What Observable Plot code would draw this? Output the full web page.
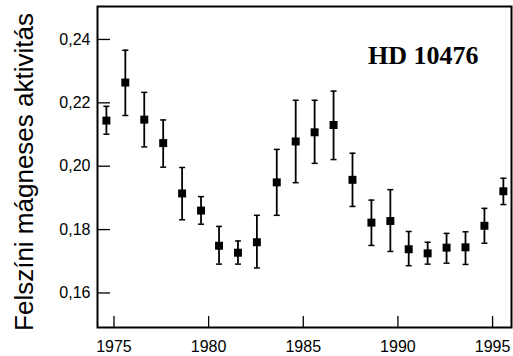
<!DOCTYPE html>
<html>
<head>
<meta charset="utf-8">
<script src="https://cdn.jsdelivr.net/npm/d3@7"></script>
<script src="https://cdn.jsdelivr.net/npm/@observablehq/plot@0.6"></script>
<style>
  html, body { margin: 0; padding: 0; background: #fff; }
  #chart svg { display: block; }
</style>
</head>
<body>
<div id="chart"></div>
<script>
// Yearly mean surface magnetic activity of HD 10476 with 1-sigma ranges
const years = [1974.6, 1975.6, 1976.6, 1977.6, 1978.6, 1979.6, 1980.55, 1981.55, 1982.55, 1983.6, 1984.6,
               1985.6, 1986.6, 1987.6, 1988.6, 1989.6, 1990.57, 1991.57, 1992.57, 1993.57, 1994.57, 1995.57];
const activity = [0.2144, 0.2264, 0.2147, 0.2073, 0.1914, 0.1860, 0.1749, 0.1727, 0.1760, 0.1949, 0.2078,
                  0.2107, 0.2130, 0.1957, 0.1822, 0.1827, 0.1738, 0.1725, 0.1743, 0.1744, 0.1812, 0.1921];
const errLow = [0.2101, 0.2160, 0.2061, 0.1997, 0.1831, 0.1817, 0.1691, 0.1691, 0.1679, 0.1845, 0.1948,
                0.2009, 0.2021, 0.1873, 0.1750, 0.1731, 0.1686, 0.1691, 0.1694, 0.1690, 0.1757, 0.1879];
const errHigh = [0.2189, 0.2366, 0.2233, 0.2146, 0.1996, 0.1904, 0.1810, 0.1764, 0.1845, 0.2053, 0.2208,
                 0.2208, 0.2237, 0.2041, 0.1893, 0.1926, 0.1794, 0.1760, 0.1788, 0.1793, 0.1867, 0.1962];

const xTicks = [1975, 1980, 1985, 1990, 1995];
const yTicks = [0.16, 0.18, 0.20, 0.22, 0.24];
const yTickLabels = ["0,16", "0,18", "0,20", "0,22", "0,24"];

const starName = "HD 10476";
const yLabel = "Felszíni mágneses aktivitás";

const rows = years.map((t, i) => ({t, v: activity[i], lo: errLow[i], hi: errHigh[i]}));

// short horizontal bar used as error-bar cap
const capSymbol = {
  draw(context, size) {
    const w = Math.sqrt(size / Math.PI);
    context.moveTo(-w, 0);
    context.lineTo(w, 0);
  }
};

const chart = Plot.plot({
  width: 513,
  height: 356,
  marginLeft: 97,
  marginRight: 2,
  marginTop: 6,
  marginBottom: 29,
  style: {fontFamily: "'Liberation Sans', Arial, sans-serif", color: "#000", background: "#fff"},
  x: {domain: [1974.13, 1996.0]},
  y: {domain: [0.1491, 0.2504]},
  marks: [
    Plot.frame({stroke: "#000", strokeWidth: 2}),
    // inward tick marks
    Plot.axisY(yTicks, {tickSize: -13, tickFormat: () => "", label: null, strokeWidth: 1.3}),
    Plot.axisX(xTicks, {tickSize: -11, tickFormat: () => "", label: null, strokeWidth: 1.3}),
    // tick labels
    Plot.axisY(yTicks, {tickSize: 0, tickPadding: 7, fontSize: 16, label: null,
      tickFormat: d => yTickLabels[yTicks.indexOf(d)]}),
    Plot.axisX(xTicks, {tickSize: 0, tickPadding: 13, fontSize: 16, label: null, tickFormat: d => String(d)}),
    // error bars
    Plot.ruleX(rows, {x: "t", y1: "lo", y2: "hi", stroke: "#000", strokeWidth: 1.8}),
    Plot.dot(rows, {x: "t", y: "lo", symbol: capSymbol, r: 3, fill: "none", stroke: "#000", strokeWidth: 1.5}),
    Plot.dot(rows, {x: "t", y: "hi", symbol: capSymbol, r: 3, fill: "none", stroke: "#000", strokeWidth: 1.5}),
    // yearly means
    Plot.dot(rows, {x: "t", y: "v", symbol: "square", r: 4.5, fill: "#000", stroke: "none"}),
    // star name
    Plot.text([starName], {frameAnchor: "top-right", dx: -33, dy: 39, lineAnchor: "top", textAnchor: "end",
      fontFamily: "'Liberation Serif', 'Times New Roman', serif", fontWeight: "bold", fontSize: 26, fill: "#000"}),
    // vertical axis title
    Plot.text([yLabel], {frameAnchor: "left", rotate: -90, dx: -73, dy: 5, lineAnchor: "middle", textAnchor: "middle",
      fontSize: 26, fill: "#000"})
  ]
});

document.getElementById("chart").appendChild(chart);
</script>
</body>
</html>
